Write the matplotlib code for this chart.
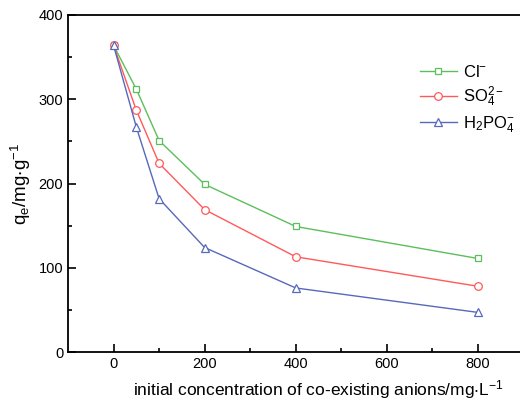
import matplotlib
matplotlib.use("Agg")
import matplotlib.pyplot as plt
from matplotlib.ticker import MultipleLocator

plt.rcParams['font.family'] = ['Liberation Sans', 'DejaVu Sans']
plt.rcParams['mathtext.fontset'] = 'custom'
plt.rcParams['mathtext.rm'] = 'Liberation Sans'
plt.rcParams['mathtext.it'] = 'Liberation Sans'
plt.rcParams['mathtext.default'] = 'regular'

# initial anion concentration (mg/L) and adsorption capacity (mg/g)
conc = [0, 50, 100, 200, 400, 800]
cl = [364, 312, 251, 199, 149, 111]
so4 = [364, 287, 224, 169, 113, 78]
h2po4 = [364, 267, 182, 124, 76, 47]
xticks = [0, 200, 400, 600, 800]

fig = plt.figure(figsize=(5.2, 4.04), dpi=100)
# axes run past the right edge of the figure, as in the original
ax = fig.add_axes([68 / 520, 1 - 352 / 404, (569 - 68) / 520, (352 - 15) / 404])

ax.plot(conc, cl, color='#5cbf5c', lw=1, marker='s', ms=5, mfc='white', mew=0.9, label='Cl$^{-}$')
ax.plot(conc, so4, color='#ff5a5a', lw=1, marker='o', ms=5.5, mfc='white', mew=0.9, label='SO$_4^{2-}$')
ax.plot(conc, h2po4, color='#5868bb', lw=1, marker='^', ms=6, mfc='white', mew=0.9, label='H$_2$PO$_4^{-}$')

ax.set_xlim(-100, 1000)
ax.set_ylim(0, 400)
ax.set_xticks(xticks)
ax.set_xticks([100, 300, 500, 700, 900], minor=True)
ax.yaxis.set_major_locator(MultipleLocator(100))
ax.yaxis.set_minor_locator(MultipleLocator(50))
ax.tick_params(which='both', direction='in', top=False, right=False, labelsize=10.5, width=1.2)
ax.tick_params(which='major', length=6)
ax.tick_params(which='minor', length=3)
for s in ax.spines.values():
    s.set_linewidth(1.3)

ax.set_xlabel('initial concentration of co-existing anions/mg$\\cdot$L$^{-1}$', fontsize=12.5, labelpad=5)
ax.set_ylabel('q$_e$/mg$\\cdot$g$^{-1}$', fontsize=13.5, labelpad=4)

ax.legend(loc='upper left', bbox_to_anchor=(337 / 501, 0.9), frameon=False, fontsize=12,
          handlelength=2.2, handletextpad=0.4, labelspacing=0.3)

fig.savefig('out.png', dpi=100)
